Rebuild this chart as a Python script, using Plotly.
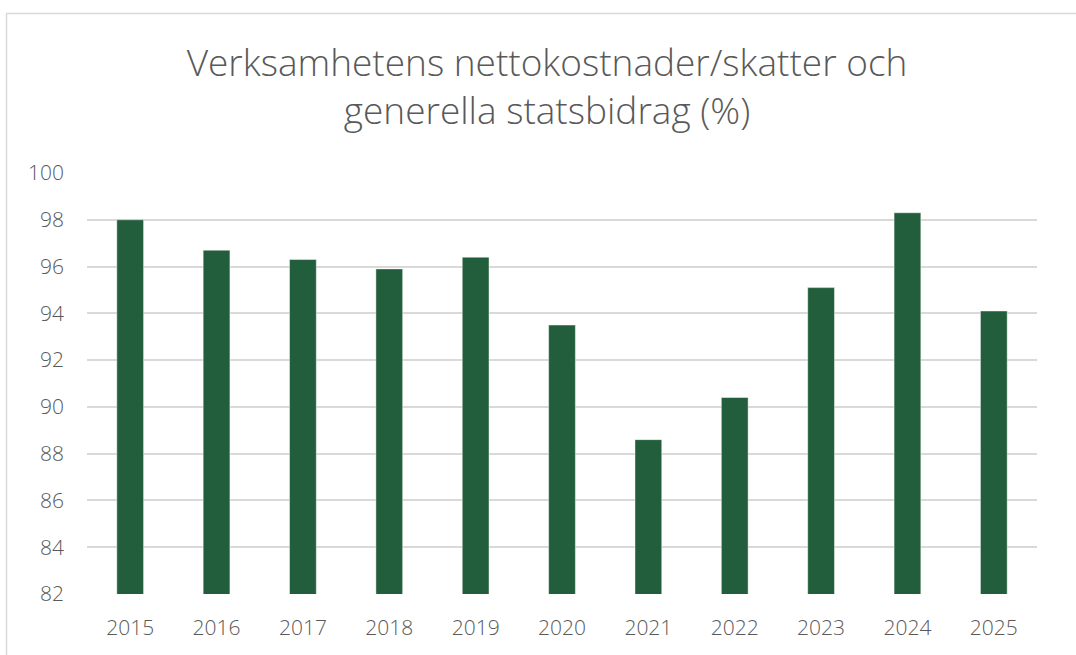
import plotly.graph_objects as go

years = ["2015", "2016", "2017", "2018", "2019", "2020", "2021", "2022", "2023", "2024", "2025"]
values = [98.0, 96.7, 96.3, 95.9, 96.4, 93.5, 88.6, 90.4, 95.1, 98.3, 94.1]
y_ticks = [82, 84, 86, 88, 90, 92, 94, 96, 98, 100]

W, H = 1076, 655
L, R, T, B = 87, 39, 173, 61
pw, ph = W - L - R, H - T - B

fig = go.Figure(go.Bar(
    x=years, y=values,
    marker=dict(color="#225E3B", line=dict(color="rgba(255,255,255,0.45)", width=1)),
    width=0.31,
    hoverinfo="x+y",
))

fig.update_layout(
    width=W, height=H,
    margin=dict(l=L, r=R, t=T, b=B),
    paper_bgcolor="white", plot_bgcolor="white",
    showlegend=False,
    title=dict(
        text="Verksamhetens nettokostnader/skatter och<br>generella statsbidrag (%)",
        x=547 / W, xanchor="center", xref="container",
        y=1 - 76 / H, yanchor="middle", yref="container",
        font=dict(family="Open Sans", size=37, color="#595959", weight=300),
    ),
    font=dict(family="Open Sans", color="#595959"),
)

fig.update_yaxes(
    range=[82, 100], tickvals=y_ticks, ticktext=[str(v) for v in y_ticks],
    showgrid=True, gridcolor="#d9d9d9", gridwidth=1.5,
    zeroline=False, showline=False, ticks="",
    ticklabelstandoff=22,
    tickfont=dict(family="Open Sans", size=21, color="#595959", weight=300),
    fixedrange=True,
)
fig.update_xaxes(
    showgrid=False, showline=False, ticks="", ticklabelstandoff=19,
    tickfont=dict(family="Open Sans", size=21, color="#595959", weight=300),
    fixedrange=True,
)

# outer chart frame
fig.add_shape(
    type="rect", xref="paper", yref="paper",
    x0=(6.5 - L) / pw, x1=(W + 20 - L) / pw,
    y0=-(B + 20) / ph, y1=(H - B - 13.5) / ph,
    line=dict(color="#d9d9d9", width=1.5), fillcolor="rgba(0,0,0,0)", layer="below",
)

fig.write_html(
    "out.html",
    config={"displayModeBar": False},
    post_script="document.body.style.margin='0';document.body.style.overflow='hidden';",
)
